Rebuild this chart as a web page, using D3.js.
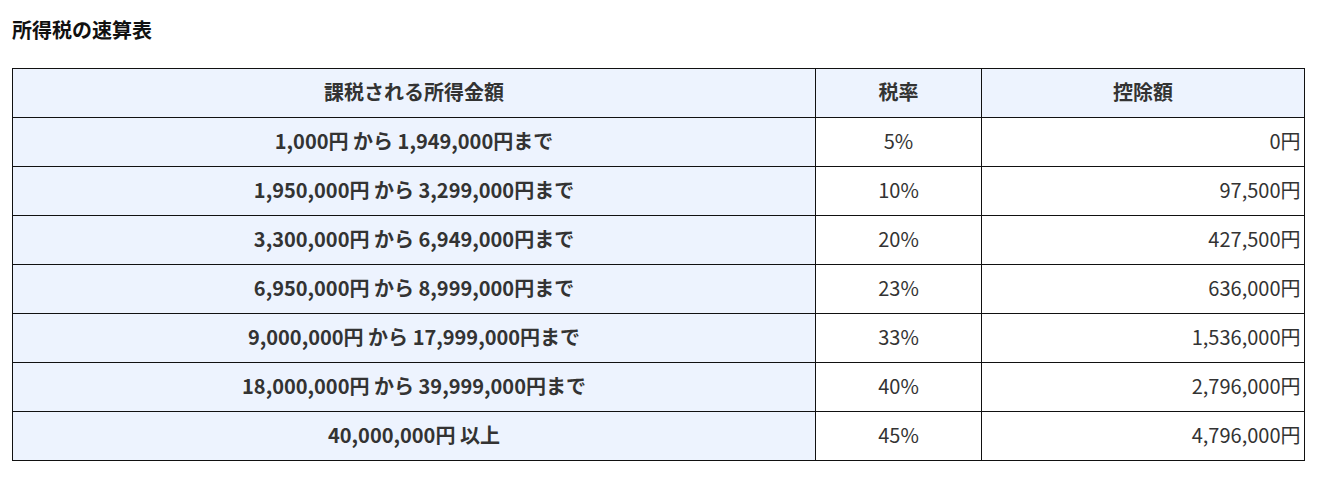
<!DOCTYPE html>
<html><head><meta charset="utf-8">
<script src="https://cdn.jsdelivr.net/npm/d3@7"></script>
<style>body{margin:0;background:#fff;font-family:"Noto Sans CJK JP","Noto Sans",sans-serif;}</style>
</head><body>
<svg id="chart" width="1322" height="488"></svg>
<script>
// table data
var title = "所得税の速算表";
var headers = ["課税される所得金額", "税率", "控除額"];
var brackets = ["1,000円 から 1,949,000円まで", "1,950,000円 から 3,299,000円まで",
  "3,300,000円 から 6,949,000円まで", "6,950,000円 から 8,999,000円まで",
  "9,000,000円 から 17,999,000円まで", "18,000,000円 から 39,999,000円まで", "40,000,000円 以上"];
var rates = ["5%", "10%", "20%", "23%", "33%", "40%", "45%"];
var deductions = ["0円", "97,500円", "427,500円", "636,000円", "1,536,000円", "2,796,000円", "4,796,000円"];

var svg = d3.select("#chart");
svg.append("text").attr("x", 12).attr("y", 38).attr("font-size", 20).attr("font-weight", "bold")
  .attr("fill", "#111").text(title);

var colEdges = [12.5, 815.5, 981.5, 1304.5];
var y = d3.scaleBand().domain(d3.range(8)).range([68.5, 460.5]);
var bg = "#edf3fe";

var rows = [headers].concat(brackets.map(function(b, i){ return [b, rates[i], deductions[i]]; }));

rows.forEach(function(row, r){
  row.forEach(function(cell, c){
    var x0 = colEdges[c], x1 = colEdges[c+1];
    var fill = (r === 0 || c === 0) ? bg : "#fff";
    svg.append("rect").attr("x", x0).attr("y", y(r)).attr("width", x1 - x0).attr("height", y.bandwidth())
      .attr("fill", fill).attr("stroke", "#111").attr("stroke-width", 1);
    var right = (r > 0 && c === 2);
    svg.append("text")
      .attr("x", right ? x1 - 4 : (x0 + x1) / 2)
      .attr("y", y(r) + y.bandwidth() / 2)
      .attr("dy", "0.36em")
      .attr("text-anchor", right ? "end" : "middle")
      .attr("font-size", 20)
      .attr("font-weight", (r === 0 || c === 0) ? "bold" : "normal")
      .attr("fill", "#333")
      .text(cell);
  });
});
</script>
</body></html>
